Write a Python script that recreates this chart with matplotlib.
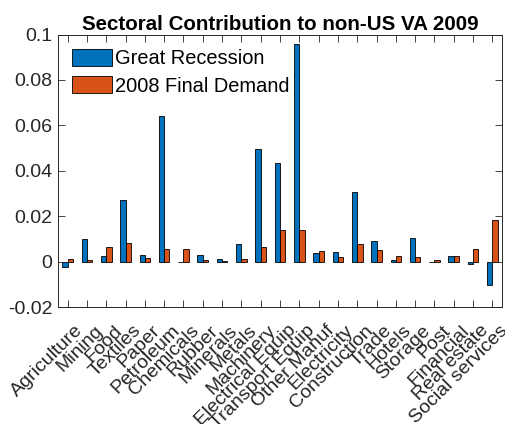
import matplotlib
matplotlib.use("Agg")
import matplotlib.pyplot as plt
import matplotlib.transforms as mtransforms
import numpy as np

plt.rcParams['font.family'] = ['Liberation Sans', 'DejaVu Sans']

sectors = ["Agriculture", "Mining", "Food", "Textiles", "Paper", "Petroleum",
           "Chemicals", "Rubber", "Minerals", "Metals", "Machinery",
           "Electrical Equip", "Transport Equip", "Other Manuf", "Electricity",
           "Construction", "Trade", "Hotels", "Storage", "Post", "Financial",
           "Real estate", "Social services"]
great_recession = [-0.0025, 0.0100, 0.0025, 0.0271, 0.0031, 0.0642, -0.0003,
                   0.0031, 0.0012, 0.0078, 0.0497, 0.0435, 0.0957, 0.0037,
                   0.0041, 0.0306, 0.0091, 0.0009, 0.0104, -0.0003, 0.0025,
                   -0.0010, -0.0101]
final_demand_2008 = [0.0010, 0.0009, 0.0066, 0.0082, 0.0016, 0.0056, 0.0057,
                     0.0008, 0.0003, 0.0010, 0.0063, 0.0139, 0.0141, 0.0048,
                     0.0018, 0.0076, 0.0051, 0.0023, 0.0021, 0.0007, 0.0025,
                     0.0054, 0.0185]
yticks = [-0.02, 0, 0.02, 0.04, 0.06, 0.08, 0.1]
ytick_labels = ["-0.02", "0", "0.02", "0.04", "0.06", "0.08", "0.1"]

fig = plt.figure(figsize=(5.06, 4.24), dpi=100)
ax = fig.add_axes([58/506, (424-307)/424, (502-58)/506, (307-34.5)/424])

x = np.arange(1, len(sectors) + 1)
w = 0.275
ax.bar(x - w/2, great_recession, w, color='#0072BD', edgecolor='black',
       linewidth=0.6, label='Great Recession')
ax.bar(x + w/2, final_demand_2008, w, color='#D95319', edgecolor='black',
       linewidth=0.6, label='2008 Final Demand')

fs = 14
ax.set_xlim(0.5, len(sectors) + 0.5)
ax.set_ylim(-0.02, 0.1)
ax.set_yticks(yticks)
ax.set_yticklabels(ytick_labels, fontsize=fs)
ax.set_xticks(x)
ax.set_xticklabels([])
offset = mtransforms.ScaledTranslation(7/100, -15/100, fig.dpi_scale_trans)
for xi, name in zip(x, sectors):
    ax.text(xi, 0, name, transform=ax.get_xaxis_transform() + offset,
            rotation=45, ha='right', va='top', rotation_mode='anchor',
            fontsize=fs, color='#262626', clip_on=False)
ax.tick_params(axis='both', direction='in', length=5, width=0.6,
               top=True, right=True, colors='#262626')
ax.tick_params(axis='y', pad=4)
for s in ax.spines.values():
    s.set_linewidth(0.7)
    s.set_color('#262626')

ax.set_title('Sectoral Contribution to non-US VA 2009', fontsize=14.8,
             fontweight='bold', pad=3)
ax.legend(loc='upper left', fontsize=14.4, frameon=False,
          handlelength=2.0, handleheight=0.95, borderaxespad=0.3,
          handletextpad=0.15, labelspacing=0.4)

fig.savefig('out.png', dpi=100)
